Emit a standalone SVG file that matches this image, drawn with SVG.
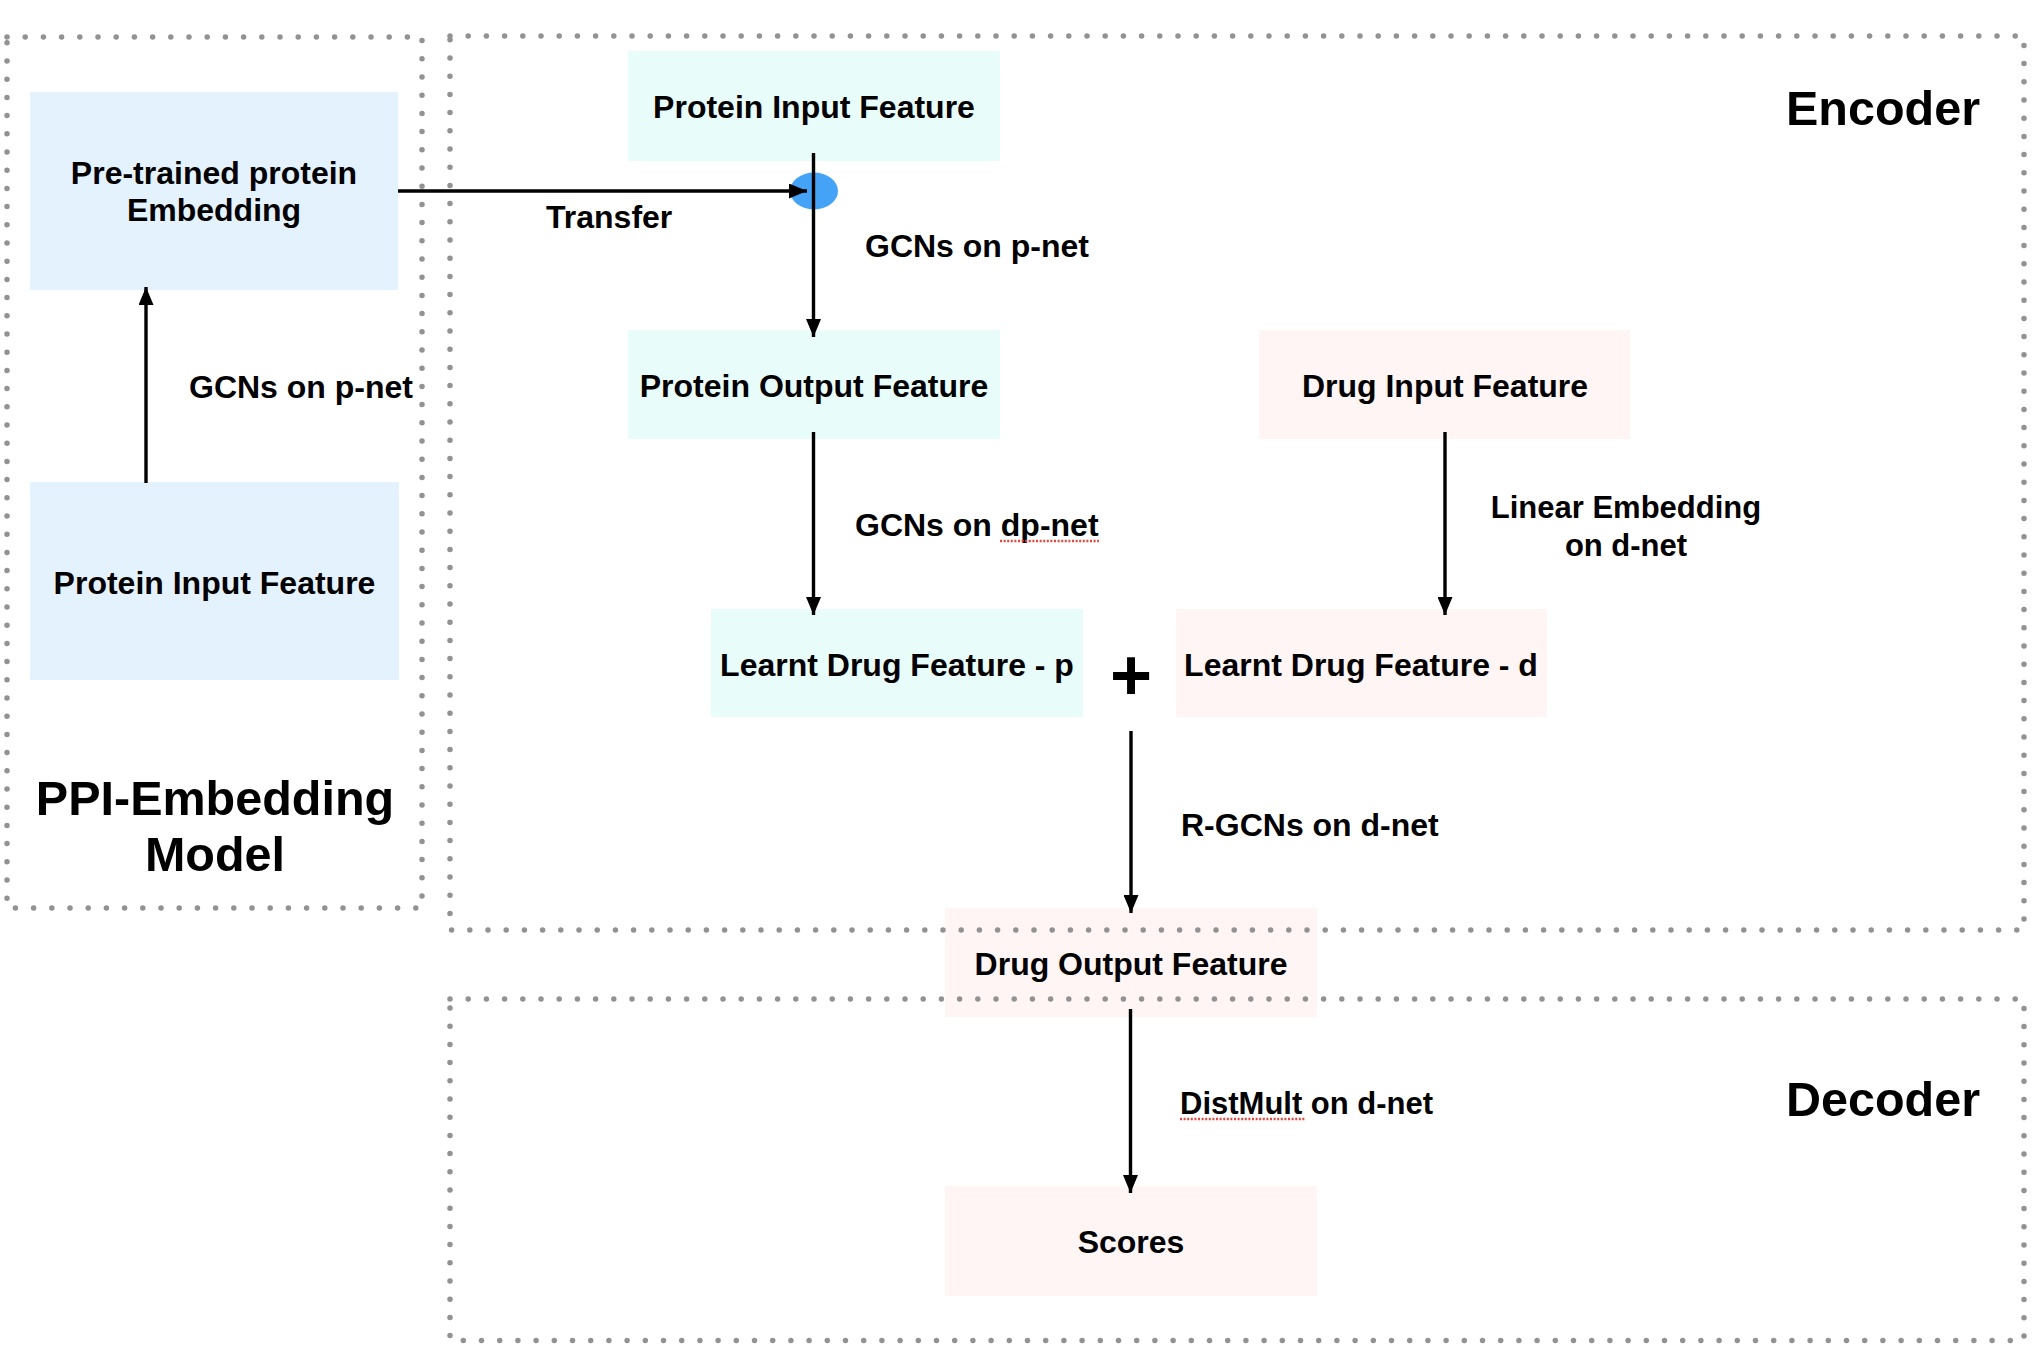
<svg xmlns="http://www.w3.org/2000/svg" width="2040" height="1372" viewBox="0 0 2040 1372">
<style>
text{font-family:"Liberation Sans",Arial,Helvetica,sans-serif;font-weight:bold;fill:#000}
.t{font-size:32px;text-anchor:middle}
.l{font-size:32px}
.big{font-size:48.5px;text-anchor:middle}
.pb{fill:#E4F2FD}
.pc{fill:#E8FCFA}
.dr{fill:#FFF5F4}
.dot{fill:none;stroke:#929292;stroke-width:5.5;stroke-linecap:round;stroke-dasharray:0 18.2}
.c{stroke:#000;stroke-width:3.4;fill:none;marker-end:url(#ah)}
.sp{stroke:#e8463c;stroke-width:2.5;stroke-dasharray:2 1.6}
</style>
<defs>
<marker id="ah" markerUnits="userSpaceOnUse" markerWidth="18" markerHeight="15" refX="18" refY="7.5" orient="auto">
<path d="M0,0 L18,7.5 L0,15 z" fill="#000"/>
</marker>
</defs>
<rect width="2040" height="1372" fill="#fff"/>

<g id="n-pretrained"><rect class="pb" x="30" y="92" width="368" height="198"/>
<text class="t" x="214" y="184">Pre-trained protein</text><text class="t" x="214" y="221">Embedding</text></g>
<g id="n-ppi-input"><rect class="pb" x="30" y="482" width="369" height="198"/>
<text class="t" x="214.5" y="594">Protein Input Feature</text></g>
<g id="n-protein-input"><rect class="pc" x="628" y="51" width="372" height="110"/>
<text class="t" x="814" y="118">Protein Input Feature</text></g>
<g id="n-junction"><ellipse cx="814" cy="191" rx="24" ry="18.5" fill="#45A3F7"/></g>
<g id="n-protein-output"><rect class="pc" x="628" y="330" width="372" height="109"/>
<text class="t" x="814" y="397">Protein Output Feature</text></g>
<g id="n-drug-input"><rect class="dr" x="1259" y="330" width="371" height="109"/>
<text class="t" x="1445" y="397">Drug Input Feature</text></g>
<g id="n-learnt-p"><rect class="pc" x="711" y="609" width="372" height="108"/>
<text class="t" x="897" y="676">Learnt Drug Feature - p</text></g>
<g id="n-learnt-d"><rect class="dr" x="1176" y="609" width="371" height="108"/>
<text class="t" x="1361" y="676">Learnt Drug Feature - d</text></g>
<g id="n-plus"><text x="1131" y="700" style="font-size:72px;text-anchor:middle">+</text></g>
<g id="n-drug-output"><rect class="dr" x="945" y="908" width="372" height="109"/>
<text class="t" x="1131" y="975">Drug Output Feature</text></g>
<g id="n-scores"><rect class="dr" x="945" y="1186" width="372" height="110"/>
<text class="t" x="1131" y="1253">Scores</text></g>

<g id="containers">
<rect class="dot" x="7" y="37" width="415" height="871"/>
<rect class="dot" x="450" y="36" width="1574" height="894"/>
<rect class="dot" x="450" y="999" width="1574" height="341.5"/>
<text class="big" x="215" y="815">PPI-Embedding</text>
<text class="big" x="215" y="871">Model</text>
<text class="big" x="1883" y="125">Encoder</text>
<text class="big" x="1883" y="1116">Decoder</text>
</g>

<g id="connectors">
<line class="c" x1="146" y1="483" x2="146" y2="287"/>
<line class="c" x1="398" y1="191" x2="807" y2="191"/>
<line class="c" x1="813.5" y1="153" x2="813.5" y2="337"/>
<line class="c" x1="813.5" y1="432" x2="813.5" y2="615"/>
<line class="c" x1="1445" y1="432" x2="1445" y2="615"/>
<line class="c" x1="1131" y1="731" x2="1131" y2="913"/>
<line class="c" x1="1130.5" y1="1009" x2="1130.5" y2="1193"/>
<text class="l" x="189" y="398">GCNs on p-net</text>
<text class="l" x="546" y="228">Transfer</text>
<text class="l" x="865" y="257">GCNs on p-net</text>
<text class="l" x="855" y="536">GCNs on dp-net</text>
<line class="sp" x1="1000" y1="541" x2="1099" y2="541"/>
<text x="1626" y="518" style="font-size:31px;text-anchor:middle">Linear Embedding</text>
<text x="1626" y="556" style="font-size:31px;text-anchor:middle">on d-net</text>
<text class="l" x="1181" y="836">R-GCNs on d-net</text>
<text x="1180" y="1114" style="font-size:31px">DistMult on d-net</text>
<line class="sp" x1="1180" y1="1119" x2="1306" y2="1119"/>
</g>
</svg>
